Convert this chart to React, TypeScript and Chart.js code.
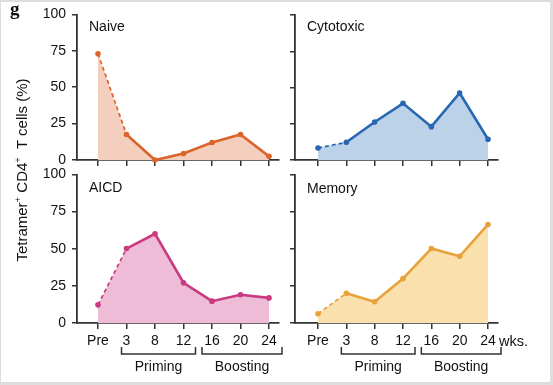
import React, { useEffect, useRef } from "react";
import { Chart, registerables } from "chart.js";

Chart.register(...registerables);

const weeks = ["Pre", "3", "8", "12", "16", "20", "24"];
const naive = [73, 17.5, 0, 4.5, 12, 17.5, 2.5];
const cytotoxic = [8.3, 12.2, 26.2, 39.1, 23, 46.2, 14.3];
const aicd = [12.2, 50.1, 60, 27.1, 14.7, 19, 16.9];
const memory = [6.3, 20.1, 14.4, 30, 50.3, 45.1, 66.6];
const yTicks = [0, 25, 50, 75, 100];
const phaseLabels = ["Priming", "Boosting"];
const phaseStart = [1, 4];
const phaseEnd = [3, 6];
const unitLabel = "wks.";

const FONT = "'Liberation Sans', Arial, Helvetica, sans-serif";
const AXIS = "#333333";

type PanelProps = {
  title: string;
  values: number[];
  line: string;
  fill: string;
  left: number;
  top: number;
  width: number;
  height: number;
  area: { left: number; top: number; right: number; bottom: number };
  yWidth: number;
  xHeight: number;
  xMin: number;
  xMax: number;
  showYLabels: boolean;
  showXLabels: boolean;
  showUnit: boolean;
  titleOffset: number;
};

function Panel(p: PanelProps) {
  const ref = useRef<HTMLCanvasElement | null>(null);
  useEffect(() => {
    if (!ref.current) return;
    const titlePlugin = {
      id: "panelTitle",
      afterDraw(chart: any) {
        const { ctx, chartArea } = chart;
        ctx.save();
        ctx.fillStyle = "#111";
        ctx.font = `14px ${FONT}`;
        ctx.textBaseline = "middle";
        ctx.textAlign = "left";
        ctx.fillText(p.title, chartArea.left + 12, chartArea.top + p.titleOffset);
        ctx.restore();
      },
    };
    const bracketPlugin = {
      id: "phaseBrackets",
      afterDraw(chart: any) {
        if (!p.showXLabels) return;
        const { ctx, chartArea } = chart;
        const xs = chart.scales.x;
        const b = chartArea.bottom;
        ctx.save();
        ctx.strokeStyle = AXIS;
        ctx.lineWidth = 1.5;
        ctx.fillStyle = "#111";
        ctx.font = `14px ${FONT}`;
        ctx.textAlign = "center";
        ctx.textBaseline = "alphabetic";
        phaseLabels.forEach((lab, i) => {
          const x0 = xs.getPixelForValue(phaseStart[i]) - (i === 0 ? 5 : 10);
          const x1 = xs.getPixelForValue(phaseEnd[i]) + (i === 0 ? 12 : 13);
          ctx.beginPath();
          ctx.moveTo(x0, b + 24);
          ctx.lineTo(x0, b + 31);
          ctx.lineTo(x1, b + 31);
          ctx.lineTo(x1, b + 24);
          ctx.stroke();
          ctx.fillText(lab, (x0 + x1) / 2, b + 48);
        });
        if (p.showUnit) {
          ctx.textAlign = "left";
          ctx.font = `14.5px ${FONT}`;
          ctx.fillText(unitLabel, xs.getPixelForValue(6) + 11, b + 23);
        }
        ctx.restore();
      },
    };
    const points = p.values.map((v, i) => ({ x: i, y: v }));
    const chart = new Chart(ref.current, {
      type: "line",
      data: {
        datasets: [
          {
            data: points,
            borderColor: p.line,
            fill: false,
            borderWidth: 2.6,
            pointRadius: 2.8,
            pointBackgroundColor: p.line,
            pointBorderWidth: 0,
            tension: 0,
            clip: false as any,
            segment: {
              borderDash: (c: any) => (c.p0DataIndex === 0 ? [4, 3] : undefined),
              borderWidth: (c: any) => (c.p0DataIndex === 0 ? 1.7 : 2.6),
            },
          } as any,
          {
            data: points,
            borderWidth: 0,
            borderColor: "rgba(0,0,0,0)",
            backgroundColor: p.fill,
            fill: "origin",
            pointRadius: 0,
            tension: 0,
          } as any,
        ],
      },
      options: {
        animation: false,
        responsive: false,
        maintainAspectRatio: false,
        layout: { padding: { top: 10, right: 10, left: 5, bottom: 5 } },
        plugins: { legend: { display: false }, tooltip: { enabled: false } },
        scales: {
          x: {
            type: "linear",
            min: p.xMin,
            max: p.xMax,
            afterBuildTicks: (s: any) => {
              s.ticks = weeks.map((_, i) => ({ value: i }));
            },
            afterFit: (s: any) => {
              s.height = p.xHeight;
            },
            grid: {
              display: true,
              drawOnChartArea: false,
              drawTicks: true,
              tickLength: 6,
              color: AXIS,
              lineWidth: 1.5,
            },
            border: { display: true, color: AXIS, width: 1.8 },
            ticks: {
              display: p.showXLabels,
              padding: 4,
              color: "#111",
              font: { size: 14, family: FONT },
              maxRotation: 0,
              autoSkip: false,
              callback: (v: any) => weeks[Number(v)] ?? "",
            },
          },
          y: {
            type: "linear",
            min: 0,
            max: 100,
            afterBuildTicks: (s: any) => {
              s.ticks = yTicks.map((v) => ({ value: v }));
            },
            afterFit: (s: any) => {
              s.width = p.yWidth;
            },
            grid: {
              display: true,
              drawOnChartArea: false,
              drawTicks: true,
              tickLength: 5,
              color: AXIS,
              lineWidth: 1.5,
            },
            border: { display: true, color: AXIS, width: 1.8 },
            ticks: {
              display: p.showYLabels,
              autoSkip: false,
              padding: 6,
              color: "#111",
              font: { size: 14, family: FONT },
              callback: (v: any) => String(v),
            },
          },
        },
      },
      plugins: [titlePlugin, bracketPlugin],
    });
    // Nudge layout padding so the plot area sits where the reference has it.
    const want = {
      left: p.area.left - p.left,
      top: p.area.top - p.top,
      right: p.area.right - p.left,
      bottom: p.area.bottom - p.top,
    };
    for (let k = 0; k < 5; k++) {
      const a = chart.chartArea;
      const pad: any = (chart.options.layout as any).padding;
      pad.left = Math.max(0, pad.left + (want.left - a.left));
      pad.top = Math.max(0, pad.top + (want.top - a.top));
      pad.right = Math.max(0, pad.right + (a.right - want.right));
      pad.bottom = Math.max(0, pad.bottom + (a.bottom - want.bottom));
      chart.update();
    }
    return () => chart.destroy();
  }, []);
  return (
    <canvas
      ref={ref}
      width={p.width}
      height={p.height}
      style={{ position: "absolute", left: p.left, top: p.top, width: p.width, height: p.height }}
    />
  );
}

export default function App() {
  const leftX = { left: 0, width: 285, yWidth: 55, xMin: -0.737, xMax: 6.351, showYLabels: true };
  const rightX = { left: 280, width: 273, yWidth: 8, xMin: -0.812, xMax: 6.353, showYLabels: false };
  const topY = { top: 0, height: 178, xHeight: 10, showXLabels: false, titleOffset: 12.5 };
  const botY = { top: 160, height: 225, xHeight: 32, showXLabels: true, titleOffset: 14 };
  const aTL = { left: 77, top: 15, right: 279, bottom: 160 };
  const aTR = { left: 295, top: 15, right: 498, bottom: 160 };
  const aBL = { left: 77, top: 175, right: 279, bottom: 323 };
  const aBR = { left: 295, top: 175, right: 498, bottom: 323 };
  return (
    <div
      style={{
        position: "fixed",
        left: 0,
        top: 0,
        width: 553,
        height: 385,
        background: "#dedede",
        overflow: "hidden",
        fontFamily: FONT,
      }}
    >
      <div style={{ position: "absolute", left: 1, top: 2, width: 549, height: 380, background: "#ffffff" }} />
      <Panel title="Naive" values={naive} line="#da642c" fill="#f5cfbd" {...leftX} {...topY} area={aTL} showUnit={false} />
      <Panel title="Cytotoxic" values={cytotoxic} line="#2867b2" fill="#bcd2e9" {...rightX} {...topY} area={aTR} showUnit={false} />
      <Panel title="AICD" values={aicd} line="#c93a80" fill="#efbcd8" {...leftX} {...botY} area={aBL} showUnit={false} />
      <Panel title="Memory" values={memory} line="#e8a23c" fill="#fae0ad" {...rightX} {...botY} area={aBR} showUnit={true} />
      <div
        style={{
          position: "absolute",
          left: 10,
          top: -2,
          font: "bold 19px 'Liberation Serif', 'DejaVu Serif', serif",
          color: "#111",
        }}
      >
        g
      </div>
      <div
        style={{
          position: "absolute",
          left: 21,
          top: 170,
          transform: "translate(-50%, -50%) rotate(-90deg)",
          whiteSpace: "nowrap",
          fontSize: 15,
          color: "#111",
          fontFamily: FONT,
        }}
      >
        Tetramer<sup style={{ fontSize: 9.5 }}>+</sup> CD4<sup style={{ fontSize: 9.5 }}>+</sup>&nbsp; T cells (%)
      </div>
    </div>
  );
}
